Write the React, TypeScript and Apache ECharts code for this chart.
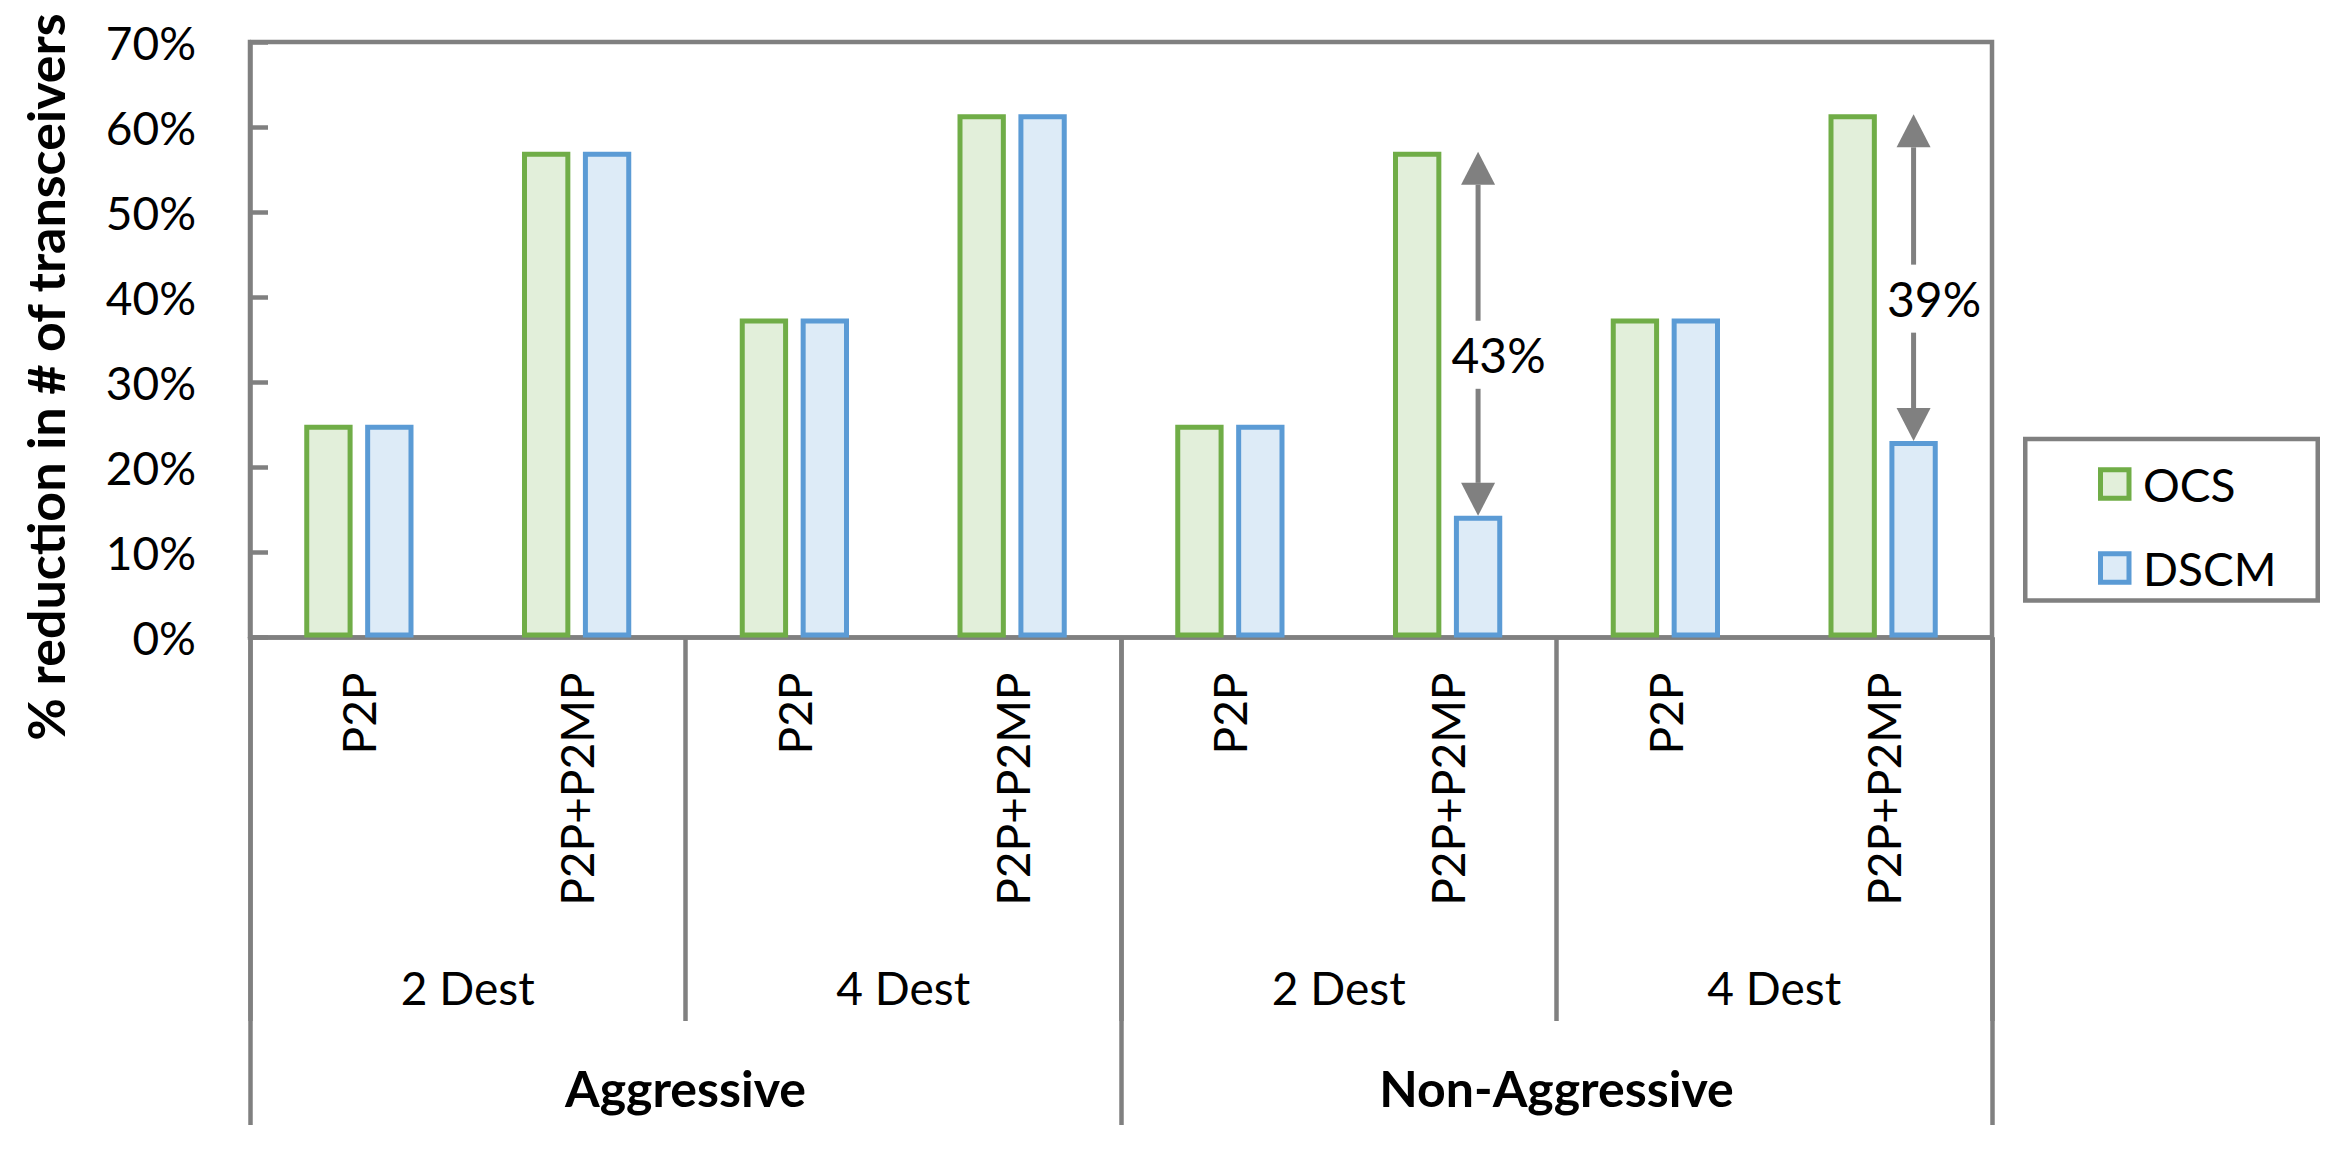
import React, { useEffect, useRef } from "react";
import * as echarts from "echarts";

const categories = ["P2P", "P2P+P2MP", "P2P", "P2P+P2MP", "P2P", "P2P+P2MP", "P2P", "P2P+P2MP"];
const destGroups = ["2 Dest", "4 Dest", "2 Dest", "4 Dest"];
const modeGroups = ["Aggressive", "Non-Aggressive"];
const ocsValues = [25, 57.1, 37.5, 61.5, 25, 57.1, 37.5, 61.5];
const dscmValues = [25, 57.1, 37.5, 61.5, 25, 14.3, 37.5, 23.1];
const arrowCategoryIndex = [5, 7];
const arrowLabels = ["43%", "39%"];
const yMin = 0;
const yMax = 70;
const yInterval = 10;
const yTitle = "% reduction in # of transceivers";

const FONT = "Lato";
const GRAY = "#808080";
const GREEN = "#70AD47";
const GREEN_FILL = "#E2EFDA";
const BLUE = "#5B9BD5";
const BLUE_FILL = "#DDEBF7";
const LW = 4.5;
const BAR_LW = 5;
const BAR_W = 0.222;
const BAR_GAP = 0.26;

export default function App() {
  const ref = useRef<HTMLDivElement>(null);
  useEffect(() => {
    if (!ref.current) return;
    const chart = echarts.init(ref.current, undefined, { renderer: "svg" });
    const arrowData = arrowCategoryIndex.map((c) => [c, ocsValues[c], dscmValues[c]]);
    const option: any = {
      animation: false,
      backgroundColor: "#ffffff",
      grid: {
        left: 250,
        right: 347,
        top: 42,
        bottom: 514.5,
        show: true,
        borderColor: GRAY,
        borderWidth: LW,
        backgroundColor: "transparent",
      },
      legend: {
        orient: "vertical",
        left: 2093,
        top: 456,
        icon: "rect",
        itemWidth: 28.5,
        itemHeight: 28.5,
        itemGap: 38,
        textStyle: { fontFamily: FONT, fontSize: 46, color: "#000", padding: [0, 0, 0, 9] },
        data: [
          { name: "OCS", itemStyle: { color: GREEN_FILL, borderColor: GREEN, borderWidth: BAR_LW } },
          { name: "DSCM", itemStyle: { color: BLUE_FILL, borderColor: BLUE, borderWidth: BAR_LW } },
        ],
      },
      xAxis: [
        {
          type: "category",
          data: categories,
          position: "bottom",
          axisLine: { show: true, lineStyle: { color: GRAY, width: LW } },
          axisTick: { show: false },
          axisLabel: {
            interval: 0,
            rotate: 90,
            margin: 35,
            fontFamily: FONT,
            fontSize: 46,
            color: "#000",
          },
        },
        {
          type: "category",
          data: destGroups,
          position: "bottom",
          axisLine: { show: false },
          axisTick: { show: true, length: 383.5, lineStyle: { color: GRAY, width: LW } },
          axisLabel: {
            interval: 0,
            margin: 350,
            verticalAlign: "middle",
            fontFamily: FONT,
            fontSize: 46,
            color: "#000",
          },
        },
        {
          type: "category",
          data: modeGroups,
          position: "bottom",
          axisLine: { show: false },
          axisTick: { show: true, length: 487.5, lineStyle: { color: GRAY, width: LW } },
          axisLabel: {
            interval: 0,
            margin: 450,
            verticalAlign: "middle",
            fontFamily: FONT,
            fontSize: 50,
            fontWeight: "bold",
            color: "#000",
          },
        },
      ],
      yAxis: {
        type: "value",
        min: yMin,
        max: yMax,
        interval: yInterval,
        axisLine: { show: true, lineStyle: { color: GRAY, width: LW } },
        axisTick: { show: true, inside: true, length: 18, lineStyle: { color: GRAY, width: LW } },
        splitLine: { show: false },
        axisLabel: {
          margin: 54,
          formatter: "{value}%",
          fontFamily: FONT,
          fontSize: 46,
          color: "#000",
        },
      },
      series: [
        {
          name: "OCS",
          type: "bar",
          xAxisIndex: 0,
          data: ocsValues,
          barWidth: BAR_W * 100 + "%",
          barGap: BAR_GAP * 100 + "%",
          itemStyle: { color: GREEN_FILL, borderColor: GREEN, borderWidth: BAR_LW },
        },
        {
          name: "DSCM",
          type: "bar",
          xAxisIndex: 0,
          data: dscmValues,
          barWidth: BAR_W * 100 + "%",
          barGap: BAR_GAP * 100 + "%",
          itemStyle: { color: BLUE_FILL, borderColor: BLUE, borderWidth: BAR_LW },
        },
        {
          name: "diff",
          type: "custom",
          xAxisIndex: 0,
          yAxisIndex: 0,
          clip: false,
          z: 5,
          data: arrowData,
          renderItem: (params: any, api: any) => {
            const cat = api.value(0);
            const top = api.coord([cat, api.value(1)]);
            const bot = api.coord([cat, api.value(2)]);
            const band = api.size([1, 0])[0];
            const bw = band * BAR_W;
            const x = top[0] + (bw + bw * BAR_GAP) / 2;
            const yTop = top[1];
            const yBot = bot[1];
            const headH = 33;
            const headW = 17;
            const textY = (yTop + yBot) / 2 + 21;
            const gap = 34;
            const lineStyle = { stroke: GRAY, lineWidth: 5 };
            return {
              type: "group",
              children: [
                { type: "line", shape: { x1: x, y1: yTop + headH, x2: x, y2: textY - gap }, style: lineStyle },
                { type: "line", shape: { x1: x, y1: textY + gap, x2: x, y2: yBot - headH }, style: lineStyle },
                {
                  type: "polygon",
                  shape: { points: [[x, yTop], [x - headW, yTop + headH], [x + headW, yTop + headH]] },
                  style: { fill: GRAY },
                },
                {
                  type: "polygon",
                  shape: { points: [[x, yBot], [x - headW, yBot - headH], [x + headW, yBot - headH]] },
                  style: { fill: GRAY },
                },
                {
                  type: "text",
                  style: {
                    text: arrowLabels[params.dataIndex],
                    x: x + 20.5,
                    y: textY,
                    align: "center",
                    verticalAlign: "middle",
                    fill: "#000",
                    fontSize: 48,
                    fontFamily: FONT,
                  },
                },
              ],
            };
          },
        },
      ],
      graphic: [
        {
          type: "text",
          x: 45,
          y: 377,
          rotation: Math.PI / 2,
          style: {
            text: yTitle,
            align: "center",
            verticalAlign: "middle",
            fill: "#000",
            fontSize: 52,
            fontWeight: "bold",
            fontFamily: FONT,
          },
        },
        {
          type: "rect",
          shape: { x: 2025.25, y: 438.95, width: 292.5, height: 161.5 },
          style: { fill: "none", stroke: GRAY, lineWidth: LW },
        },
      ],
    };
    chart.setOption(option);
    return () => chart.dispose();
  }, []);
  return (
    <div
      ref={ref}
      style={{ position: "fixed", left: 0, top: 0, width: 2339, height: 1152, background: "#fff" }}
    />
  );
}
